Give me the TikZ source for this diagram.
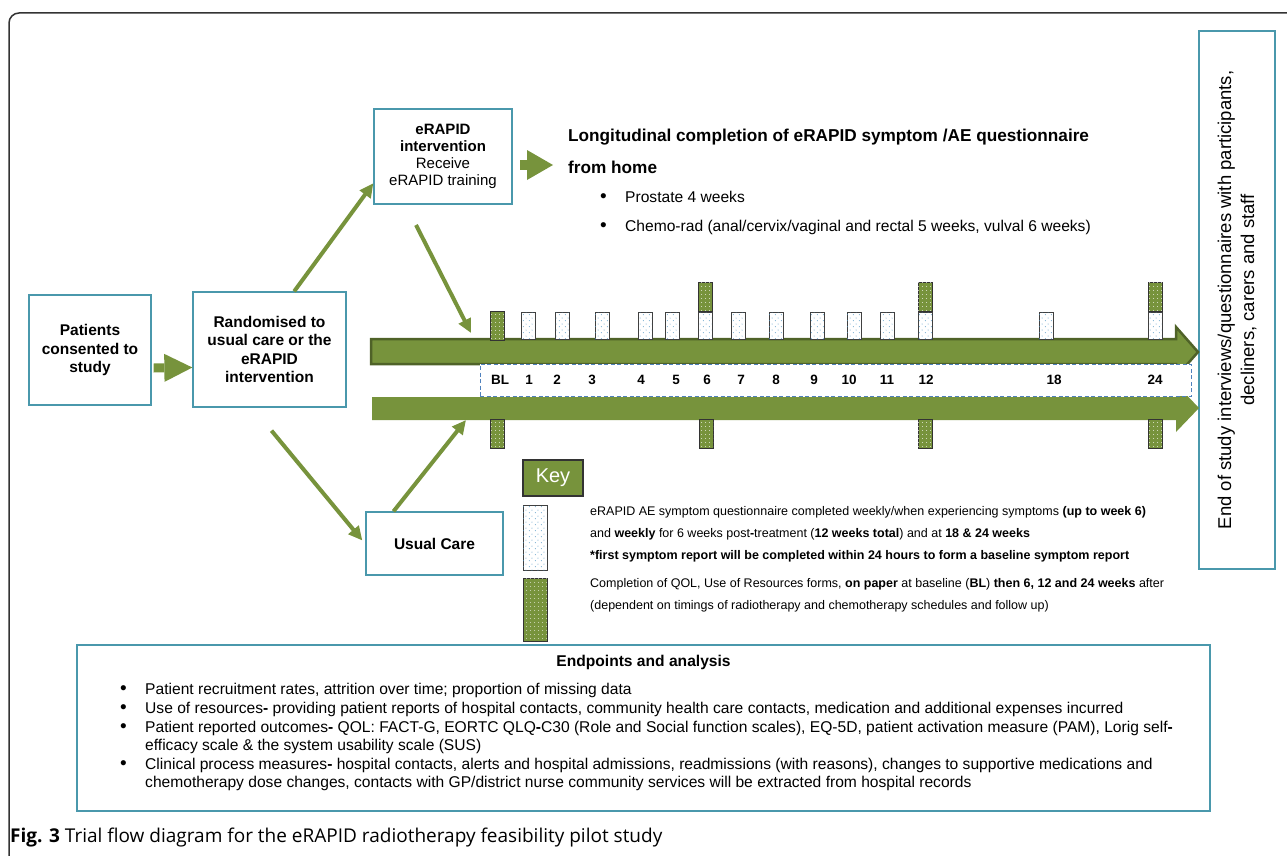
\documentclass[tikz,border=0pt]{standalone}
\usepackage{fontspec}
\setmainfont{Liberation Sans}
\newfontfamily\capfont{Open Sans}
\usetikzlibrary{arrows.meta,patterns.meta}
\definecolor{gfill}{RGB}{119,147,60}
\definecolor{gdark}{RGB}{79,98,40}
\definecolor{boxteal}{RGB}{74,152,172}
\definecolor{dashblue}{RGB}{79,129,189}
\definecolor{dotblue}{RGB}{80,150,195}
\tikzdeclarepattern{name=bluedots,type=uncolored,
  bottom left={(0pt,0pt)},top right={(6pt,6pt)},tile size={(6pt,6pt)},
  code={\fill (1.5pt,1.5pt) circle (0.55pt); \fill (4.5pt,4.5pt) circle (0.55pt);}}
\tikzdeclarepattern{name=whitedots,type=uncolored,
  bottom left={(0pt,0pt)},top right={(3.5pt,4pt)},tile size={(3.5pt,4pt)},
  code={\fill (1.75pt,2pt) circle (0.5pt);}}
\tikzset{
  box/.style={draw=boxteal,line width=1.3pt,fill=white,align=center,inner sep=1pt},
  boxtext/.style={font=\bfseries\fontsize{15.5}{18.5}\selectfont},
  wkbox/.style={draw=black!75,line width=1pt,fill=white,minimum width=14pt,minimum height=27pt,inner sep=0pt,
    postaction={pattern=bluedots,pattern color=dotblue}},
  qolbox/.style={draw=black!80,line width=1pt,fill=gfill,minimum width=14pt,minimum height=29pt,inner sep=0pt,
    postaction={pattern=whitedots,pattern color=white}},
  numtext/.style={font=\bfseries\fontsize{13.5}{15}\selectfont,inner sep=0pt},
  thinarr/.style={draw=gfill,line width=4pt,-{Triangle[length=14pt,width=13pt]}},
  keytext/.style={anchor=west,font=\fontsize{12.5}{15}\selectfont,inner sep=0pt},
  body/.style={anchor=base west,font=\fontsize{15.6}{18}\selectfont,inner sep=0pt}
}
\newcommand{\wk}[2]{\node[wkbox] (w#1) at (#2,325.5) {};}
\newcommand{\qol}[3]{\node[qolbox] (#1) at (#2,#3) {};}
\newcommand{\wknum}[2]{\node[numtext] (n#1) at (#2,380) {#1};}
\newcommand{\bul}[4]{\node[body] (#1) at (#2,#3+5.5) {\fontsize{19}{18}\selectfont\textbullet}; \node[body] (#1t) at (#2+25,#3+5.5) {#4};}

\begin{document}
\begin{tikzpicture}[x=1pt,y=-1pt]
    \useasboundingbox (0,0) rectangle (1287,856);
    \clip (0,0) rectangle (1287,856);
    \draw[black!80,line width=1.5pt,rounded corners=10pt] (9,13) rectangle (1330,870);

    % flow boxes
    \node[box,boxtext,minimum width=122pt,minimum height=110pt] (pat) at (90,350) {Patients\\consented to\\study};
    \node[box,boxtext,minimum width=153pt,minimum height=115pt] (rand) at (269.5,349.5) {Randomised to\\usual care or the\\eRAPID\\intervention};
    \node[box,minimum width=138pt,minimum height=95pt,font=\fontsize{15}{17}\selectfont] (erapid) at (443,156.5) {\textbf{eRAPID}\\\textbf{intervention}\\Receive\\eRAPID training};
    \node[box,boxtext,minimum width=137pt,minimum height=63pt] (usual) at (434.5,543.5) {Usual Care};
    \node[box,rotate=90,minimum width=538pt,minimum height=76pt,font=\fontsize{18.5}{23}\selectfont] (endst) at (1237,300) {End of study interviews/questionnaires with participants,\\decliners, carers and staff};

    % questionnaire text
    \node[anchor=west,inner sep=0pt,font=\bfseries\fontsize{17.2}{20}\selectfont] (long1) at (568,137) {Longitudinal completion of eRAPID symptom /AE questionnaire};
    \node[anchor=west,inner sep=0pt,font=\bfseries\fontsize{17.2}{20}\selectfont] (long2) at (568,167) {from home};
    \bul{pro}{600}{197}{Prostate 4 weeks}
    \bul{chem}{600}{226}{Chemo-rad (anal/cervix/vaginal and rectal 5 weeks, vulval 6 weeks)}

    % block arrows
    \coordinate (ba1) at (520,165); \coordinate (ba2) at (553,165);
    \draw[gfill,line width=10pt,-{Triangle[length=26pt,width=30pt,line width=0pt]}] (ba1) -- (ba2);
    \draw[gfill,line width=9pt,-{Triangle[length=28pt,width=28pt,line width=0pt]}] ([xshift=2pt,yshift=-18pt]pat.east) -- ([yshift=-18pt]rand.west);

    % timeline arrows
    \filldraw[fill=gfill,draw=gdark,line width=2.5pt,line join=miter] (371,339) -- (1176,339) -- (1176,327) -- (1198,352) -- (1176,377) -- (1176,364) -- (371,364) -- cycle;
    \fill[gfill] (372,397) -- (1176,397) -- (1176,384) -- (1199,408) -- (1176,432) -- (1176,420) -- (372,420) -- cycle;
    \node[draw=dashblue,dash pattern=on 4pt off 2.5pt,line width=1pt,fill=white,minimum width=711pt,minimum height=32pt] (wkrow) at (835.5,380) {};

    % thin arrows
    \coordinate (c1) at (416,225); \coordinate (c2) at (471,333); \coordinate (c3) at (466,420);
    \draw[thinarr] (rand.67) -- (erapid.201);
    \draw[thinarr] (c1) -- (c2);
    \draw[thinarr] ([xshift=2pt,yshift=-23pt]rand.south) -- ([xshift=-3pt,yshift=3pt]usual.west);
    \draw[thinarr] ([xshift=-41pt]usual.north) -- (c3);

    % weekly boxes
    \qol{qBL}{497}{325.5} \wk{1}{528} \wk{2}{562} \wk{3}{602} \wk{4}{645}
    \wk{5}{672} \wk{6}{705} \wk{7}{738} \wk{8}{776} \wk{9}{817}
    \wk{10}{854} \wk{11}{887} \wk{12}{925} \wk{18}{1046} \wk{24}{1155}
    \qol{q6}{705}{297} \qol{q12}{925}{297} \qol{q24}{1155}{297}
    \qol{b0}{497}{434} \qol{b6}{706}{434} \qol{b12}{925}{434} \qol{b24}{1155}{434}
    \wknum{BL}{500} \wknum{1}{529} \wknum{2}{557} \wknum{3}{592} \wknum{4}{641}
    \wknum{5}{676} \wknum{6}{707} \wknum{7}{741} \wknum{8}{776} \wknum{9}{814}
    \wknum{10}{849} \wknum{11}{887} \wknum{12}{926} \wknum{18}{1054} \wknum{24}{1155}

    % key
    \node[draw=black!80,line width=1.5pt,fill=gfill,minimum width=60pt,minimum height=36pt,text=white,font=\fontsize{20}{22}\selectfont] (key) at (553,478) {Key};
    \node[wkbox,minimum width=24pt,minimum height=65pt] (keywk) at (535,537.5) {};
    \node[qolbox,minimum width=24pt,minimum height=63pt] (keyqol) at (535,609.5) {};
    \node[keytext] (k1) at (590,512) {eRAPID AE symptom questionnaire completed weekly/when experiencing symptoms \textbf{(up to week 6)}};
    \node[keytext] (k2) at (590,534) {and \textbf{weekly} for 6 weeks post\textbf{-}treatment (\textbf{12 weeks total}) and at \textbf{18 \& 24 weeks}};
    \node[keytext] (k3) at (590,556) {\textbf{*first symptom report will be completed within 24 hours to form a baseline symptom report}};
    \node[keytext] (k4) at (590,584) {Completion of QOL, Use of Resources forms, \textbf{on paper} at baseline (\textbf{BL}) \textbf{then 6, 12 and 24 weeks} after};
    \node[keytext] (k5) at (590,606) {(dependent on timings of radiotherapy and chemotherapy schedules and follow up)};

    % endpoints
    \node[box,minimum width=1133pt,minimum height=166pt] (ends) at (643.5,728) {};
    \node[font=\bfseries\fontsize{15.6}{18}\selectfont,inner sep=0pt] (endtitle) at (643.5,662) {Endpoints and analysis};
    \bul{e1}{120}{689}{Patient recruitment rates, attrition over time; proportion of missing data}
    \bul{e2}{120}{708}{Use of resources\textbf{-} providing patient reports of hospital contacts, community health care contacts, medication and additional expenses incurred}
    \bul{e3}{120}{727}{Patient reported outcomes\textbf{-} QOL: FACT-G, EORTC QLQ\textbf{-}C30 (Role and Social function scales), EQ-5D, patient activation measure (PAM), Lorig self\textbf{-}}
    \node[body] (e3b) at (145,750.5) {efficacy scale \& the system usability scale (SUS)};
    \bul{e4}{120}{764}{Clinical process measures\textbf{-} hospital contacts, alerts and hospital admissions, readmissions (with reasons), changes to supportive medications and}
    \node[body] (e4b) at (145,787.5) {chemotherapy dose changes, contacts with GP/district nurse community services will be extracted from hospital records};

    \node[anchor=west,inner sep=0pt,font=\capfont\fontsize{19}{22}\selectfont] (cap) at (10,838) {\textbf{Fig. 3} Trial flow diagram for the eRAPID radiotherapy feasibility pilot study};
\end{tikzpicture}
\end{document}
